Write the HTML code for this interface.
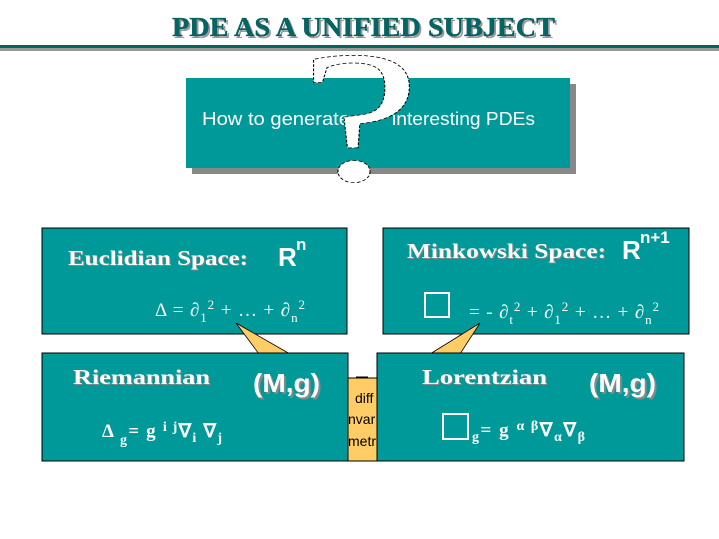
<!DOCTYPE html>
<html><head><meta charset="utf-8"><style>
body{margin:0;background:#fff;width:719px;height:539px;overflow:hidden}
svg{display:block}
.s{font-family:"Liberation Serif",serif;font-weight:bold;fill:#fff}
.sh{font-family:"Liberation Serif",serif;font-weight:bold;fill:#888}
.a{font-family:"Liberation Sans",sans-serif;fill:#fff}
</style></head><body>
<svg width="719" height="539" viewBox="0 0 719 539">
<text x="174" y="38" textLength="383" lengthAdjust="spacingAndGlyphs" font-family="Liberation Serif,serif" font-weight="bold" font-size="27" fill="#999">PDE AS A UNIFIED SUBJECT</text>
<text x="172" y="36" textLength="383" lengthAdjust="spacingAndGlyphs" font-family="Liberation Serif,serif" font-weight="bold" font-size="27" fill="#006666" stroke="#004444" stroke-width="0.3">PDE AS A UNIFIED SUBJECT</text>
<rect x="0" y="45" width="719" height="3" fill="#006666"/>
<rect x="0" y="48" width="719" height="3" fill="#999"/>
<rect x="192" y="84" width="384" height="90" fill="#888"/>
<rect x="186" y="78" width="384" height="90" fill="#009999"/>
<text x="202" y="125" textLength="148" lengthAdjust="spacingAndGlyphs" class="a" font-size="18">How to generate</text>
<text x="392" y="125" textLength="143" lengthAdjust="spacingAndGlyphs" class="a" font-size="18">interesting PDEs</text>
<g transform="translate(360,180) scale(1.55,1.07)">
<text x="0" y="0" text-anchor="middle" font-family="Liberation Serif,serif" font-size="176" fill="#fff" stroke="#000" stroke-width="0.7" stroke-dasharray="2.5 1.5">?</text>
</g>
<rect x="42" y="228" width="305" height="106" fill="#009999" stroke="#000"/>
<rect x="383" y="228" width="306" height="106" fill="#009999" stroke="#000"/>
<polygon points="236,323 259,354 290,354" fill="#ffcc66" stroke="#000" stroke-width="0.8"/>
<polygon points="480,323 430,354 460,354" fill="#ffcc66" stroke="#000" stroke-width="0.8"/>
<rect x="347" y="378" width="31" height="83" fill="#ffcc66" stroke="#000"/>
<rect x="42" y="353" width="306" height="108" fill="#009999" stroke="#000"/>
<rect x="377" y="353" width="307" height="108" fill="#009999" stroke="#000"/>
<line x1="356" y1="377" x2="368" y2="377" stroke="#000"/>
<g font-family="Liberation Sans,sans-serif" font-size="14" fill="#000"><text x="355" y="403">diff</text><text x="348" y="424">nvar</text><text x="348" y="446">metr</text></g>
<g font-size="21">
<text x="69" y="266" class="sh" textLength="180" lengthAdjust="spacingAndGlyphs">Euclidian Space:</text>
<text x="68" y="265" class="s" textLength="180" lengthAdjust="spacingAndGlyphs">Euclidian Space:</text>
<text x="408" y="259" class="sh" textLength="199" lengthAdjust="spacingAndGlyphs">Minkowski Space:</text>
<text x="407" y="258" class="s" textLength="199" lengthAdjust="spacingAndGlyphs">Minkowski Space:</text>
<text x="74" y="385" class="sh" textLength="137" lengthAdjust="spacingAndGlyphs">Riemannian</text>
<text x="73" y="384" class="s" textLength="137" lengthAdjust="spacingAndGlyphs">Riemannian</text>
<text x="423" y="385" class="sh" textLength="125" lengthAdjust="spacingAndGlyphs">Lorentzian</text>
<text x="422" y="384" class="s" textLength="125" lengthAdjust="spacingAndGlyphs">Lorentzian</text>
</g>
<g font-family="Liberation Sans,sans-serif" font-weight="bold" font-size="26">
<text x="255" y="394" fill="#888" textLength="67" lengthAdjust="spacingAndGlyphs">(M,g)</text>
<text x="253" y="392" fill="#fff" textLength="67" lengthAdjust="spacingAndGlyphs">(M,g)</text>
<text x="591" y="394" fill="#888" textLength="67" lengthAdjust="spacingAndGlyphs">(M,g)</text>
<text x="589" y="392" fill="#fff" textLength="67" lengthAdjust="spacingAndGlyphs">(M,g)</text>
<text x="278" y="266" fill="#fff">R</text><text x="622" y="259" fill="#fff">R</text>
</g>
<g class="a" font-weight="bold" font-size="17"><text x="296" y="250">n</text><text x="640" y="243">n+1</text></g>
<g font-family="Liberation Serif,serif" fill="#fff" font-size="19">
<text x="155" y="316" textLength="150">Δ = ∂<tspan font-size="13" dy="6">1</tspan><tspan font-size="13" dy="-13">2</tspan><tspan dy="7"> + … + ∂</tspan><tspan font-size="13" dy="6">n</tspan><tspan font-size="13" dy="-13">2</tspan></text>
<text x="469" y="318" textLength="190">= - ∂<tspan font-size="13" dy="6">t</tspan><tspan font-size="13" dy="-13">2</tspan><tspan dy="7"> + ∂</tspan><tspan font-size="13" dy="6">1</tspan><tspan font-size="13" dy="-13">2</tspan><tspan dy="7"> + … + ∂</tspan><tspan font-size="13" dy="6">n</tspan><tspan font-size="13" dy="-13">2</tspan></text>
<text x="102" y="437" font-weight="bold" textLength="120">Δ <tspan font-size="14" dy="7">g</tspan><tspan dy="-7">= g </tspan><tspan font-size="14" dy="-6">i j</tspan><tspan dy="6">∇</tspan><tspan font-size="14" dy="5">i</tspan><tspan dy="-5"> ∇</tspan><tspan font-size="14" dy="5">j</tspan></text>
<text x="472" y="436" font-weight="bold" textLength="113"><tspan font-size="14" dy="5">g</tspan><tspan dy="-5">= g </tspan><tspan font-size="14" dy="-6">α β</tspan><tspan dy="6">∇</tspan><tspan font-size="14" dy="5">α</tspan><tspan dy="-5">∇</tspan><tspan font-size="14" dy="5">β</tspan></text>
</g>
<rect x="425" y="293" width="24" height="24" fill="none" stroke="#fff" stroke-width="2"/>
<rect x="443" y="414" width="25" height="25" fill="none" stroke="#fff" stroke-width="2"/>
</svg>
</body></html>
